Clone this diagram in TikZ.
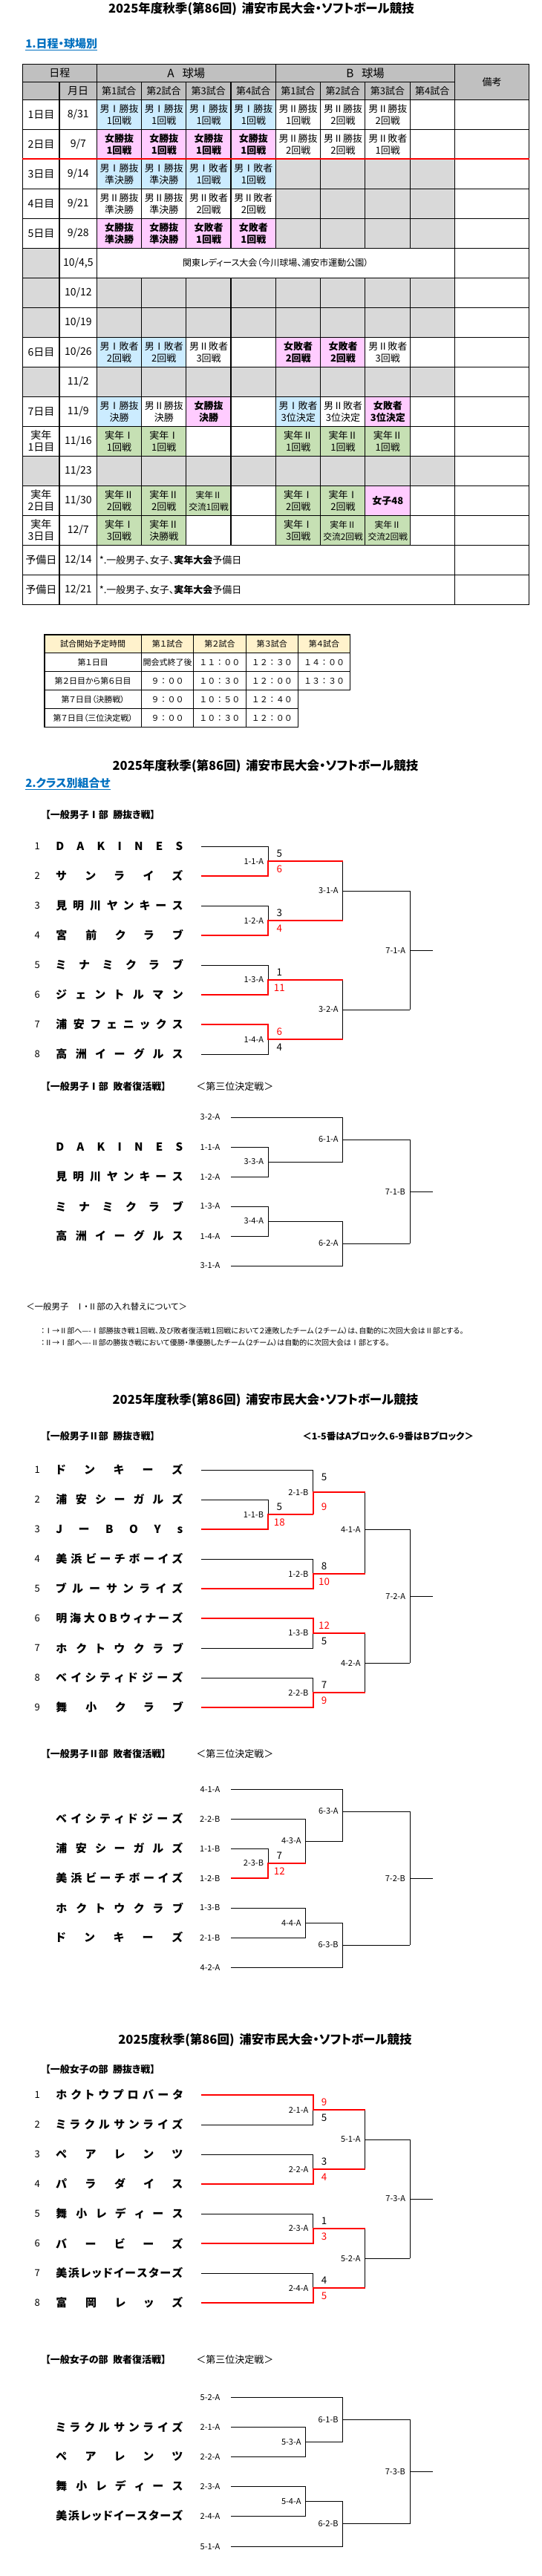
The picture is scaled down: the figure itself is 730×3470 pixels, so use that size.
\documentclass[tikz,border=0pt]{standalone}
\usepackage{fontspec}
\setmainfont{Noto Sans CJK JP}[RawFeature=+palt]
\newfontfamily\jpfw{Noto Sans CJK JP}
\makeatletter
\newcommand\spreadchars[1]{\@tfor\sc@c:=#1\do{\sc@c\hfill}\unskip}
\makeatother
\definecolor{cblue}{HTML}{CCECFF}
\definecolor{cpink}{HTML}{FFCCFF}
\definecolor{cgreen}{HTML}{C6E0B4}
\definecolor{cgray}{HTML}{D9D9D9}
\definecolor{chead}{HTML}{C0C0C0}
\definecolor{cyel}{HTML}{FFF2CC}
\definecolor{cttl}{HTML}{0070C0}
\tikzset{
 bl/.style={line width=0.75pt,black},
 wl/.style={line width=1.4pt,red},
 grid/.style={line width=0.8pt,black},
 tg/.style={line width=0.9pt,black},
 cell/.style={anchor=north west,minimum width=45.225pt,minimum height=30pt,inner sep=0pt,align=center,font=\fontsize{9.75pt}{12pt}\selectfont},
 cb/.style={cell,fill=cblue},
 pk/.style={cell,fill=cpink,font=\fontsize{9.75pt}{12pt}\selectfont\bfseries},
 cg/.style={cell,fill=cgreen},
 cw/.style={cell},
 gy/.style={cell,fill=cgray},
 hd/.style={inner sep=0pt,font=\fontsize{9.75pt}{12pt}\selectfont},
 tt/.style={inner sep=0pt,font=\fontsize{8.25pt}{10pt}\selectfont},
 ttf/.style={inner sep=0pt,font=\fontsize{8.25pt}{10pt}\jpfw},
 ttl/.style={inner sep=0pt,font=\fontsize{12.4pt}{14pt}\selectfont\bfseries},
 shead/.style={anchor=west,inner sep=0pt,text=cttl,font=\fontsize{11.25pt}{13pt}\selectfont\bfseries},
 bhead/.style={anchor=west,inner sep=0pt,font=\fontsize{9.75pt}{11pt}\selectfont\bfseries},
 bheadr/.style={anchor=west,inner sep=0pt,font=\fontsize{9.75pt}{11pt}\selectfont},
 lab/.style={inner sep=0pt,font=\fontsize{8.25pt}{9pt}\selectfont},
 sc/.style={inner sep=0pt,font=\fontsize{10pt}{11pt}\selectfont},
 tnum/.style={inner sep=0pt,font=\fontsize{9.75pt}{11pt}\selectfont},
 tname/.style={anchor=west,inner sep=0pt,font=\fontsize{11.25pt}{12pt}\selectfont\bfseries},
 note/.style={anchor=west,inner sep=0pt,font=\fontsize{7.5pt}{9pt}\selectfont}
}
\newcommand\gc[4]{%
 \pgfmathsetmacro\gx{130.1+60.3*(#2-1)}%
 \pgfmathsetmacro\gy{134.3+40*(#1-1)}%
 \node[#3] (g#1-#2) at (\gx,\gy) {#4};}
\newcommand\rc[4]{%
 \pgfmathsetmacro\gy{134.3+40*(#1-1)}%
 \node[cell,#2,minimum width=37.2pt,font=\fontsize{10.5pt}{12pt}\selectfont] (d#1) at (30.4,\gy) {#3};
 \node[cell,minimum width=37.58pt,font=\fontsize{10.5pt}{12pt}\selectfont] (m#1) at (80,\gy) {#4};}
\newcommand\team[4]{%
 \coordinate (#1) at (270.5,#2);
 \node[tnum] (#1n) at (50.2,#2) {#3};
 \node[tname] (#1m) at (75,#2) {\makebox[128.25pt][s]{\spreadchars{#4}}};}
\newcommand\entry[3]{%
 \coordinate (#1) at (311.2,#2);
 \node[lab,anchor=east] (#1l) at (296.5,#2) {#3};}
\newcommand\entryn[4]{%
 \coordinate (#1) at (311.2,#2);
 \node[tname] (#1m) at (75,#2) {\makebox[128.25pt][s]{\spreadchars{#3}}};
 \node[lab,anchor=east] (#1l) at (296.5,#2) {#4};}
\newcommand\mc[4]{%
 \coordinate (#1) at (#2,#3);
 \node[lab,anchor=east] (#1l) at ([xshift=-4.5pt]#1) {#4};}
\newcommand\mt[5]{%
 \ifcase#5\relax
  \draw[bl] (#1) -| (#3); \draw[bl] (#2) -| (#3); \draw[bl] (#3) -- (#4);
 \or
  \draw[bl] (#2) -| (#3); \draw[wl] (#1) -| (#3) -- (#4);
 \or
  \draw[bl] (#1) -| (#3); \draw[wl] (#2) -| (#3) -- (#4);
 \fi}
\newcommand\scr[3]{%
 \node[sc] (#1s1) at ([xshift=11.25pt,yshift=7.5pt]#1) {#2};
 \node[sc] (#1s2) at ([xshift=11.25pt,yshift=-7.8pt]#1) {#3};}
\newcommand\rd[1]{\textcolor{red}{#1}}
\begin{document}
\begin{tikzpicture}[x=0.75pt,y=-0.75pt]
\useasboundingbox (0,0) rectangle (730,3470);
\fill[white] (0,0) rectangle (730,3470);
% ---------- title and section 1
\node[ttl] (title1) at (352,12.5) {2025年度秋季(第86回)\hspace{0.4em}浦安市民大会・ソフトボール競技};
\node[shead] (sec1) at (34,60) {\underline{1.日程・球場別}};
% ---------- schedule table
\fill[chead] (30.4,86.7) rectangle (712.7,134.3);
\node[hd,font=\fontsize{10.5pt}{12pt}\selectfont] (hA0) at (80.25,98.5) {日程};
\node[hd,font=\fontsize{11.5pt}{13pt}\selectfont] (hA1) at (250.85,98.5) {A\hspace{0.7em}球場};
\node[hd,font=\fontsize{11.5pt}{13pt}\selectfont] (hA2) at (492.05,98.5) {B\hspace{0.7em}球場};
\node[hd] (hA3) at (662.6,110.5) {備考};
\node[hd,font=\fontsize{10.5pt}{12pt}\selectfont] (hB0) at (105.05,122.3) {月日};
\foreach \k/\t in {1/第1試合,2/第2試合,3/第3試合,4/第4試合,5/第1試合,6/第2試合,7/第3試合,8/第4試合}{
 \node[hd] (hB\k) at ({130.1+60.3*(\k-1)+30.15},122.3) {\t};}
% row labels
\rc{1}{fill=white}{1日目}{8/31}
\rc{2}{fill=white}{2日目}{9/7}
\rc{3}{fill=white}{3日目}{9/14}
\rc{4}{fill=white}{4日目}{9/21}
\rc{5}{fill=white}{5日目}{9/28}
\rc{6}{fill=cgray}{}{10/4,5}
\rc{7}{fill=cgray}{}{10/12}
\rc{8}{fill=cgray}{}{10/19}
\rc{9}{fill=white}{6日目}{10/26}
\rc{10}{fill=cgray}{}{11/2}
\rc{11}{fill=white}{7日目}{11/9}
\rc{12}{fill=white}{実年\\1日目}{11/16}
\rc{13}{fill=cgray}{}{11/23}
\rc{14}{fill=white}{実年\\2日目}{11/30}
\rc{15}{fill=white}{実年\\3日目}{12/7}
\rc{16}{fill=white}{予備日}{12/14}
\rc{17}{fill=white}{予備日}{12/21}
% row 1
\foreach \k in {1,...,4}{\gc{1}{\k}{cb}{男Ⅰ勝抜\\1回戦}}
\gc{1}{5}{cw}{男Ⅱ勝抜\\1回戦}
\gc{1}{6}{cw}{男Ⅱ勝抜\\2回戦}
\gc{1}{7}{cw}{男Ⅱ勝抜\\2回戦}
% row 2
\foreach \k in {1,...,4}{\gc{2}{\k}{pk}{女勝抜\\1回戦}}
\gc{2}{5}{cw}{男Ⅱ勝抜\\2回戦}
\gc{2}{6}{cw}{男Ⅱ勝抜\\2回戦}
\gc{2}{7}{cw}{男Ⅱ敗者\\1回戦}
% row 3
\gc{3}{1}{cb}{男Ⅰ勝抜\\準決勝}
\gc{3}{2}{cb}{男Ⅰ勝抜\\準決勝}
\gc{3}{3}{cb}{男Ⅰ敗者\\1回戦}
\gc{3}{4}{cb}{男Ⅰ敗者\\1回戦}
% row 4
\gc{4}{1}{cw}{男Ⅱ勝抜\\準決勝}
\gc{4}{2}{cw}{男Ⅱ勝抜\\準決勝}
\gc{4}{3}{cw}{男Ⅱ敗者\\2回戦}
\gc{4}{4}{cw}{男Ⅱ敗者\\2回戦}
% row 5
\gc{5}{1}{pk}{女勝抜\\準決勝}
\gc{5}{2}{pk}{女勝抜\\準決勝}
\gc{5}{3}{pk}{女敗者\\1回戦}
\gc{5}{4}{pk}{女敗者\\1回戦}
\foreach \r in {3,4,5}{\foreach \k in {5,...,8}{\gc{\r}{\k}{gy}{}}}
% row 6
\node[inner sep=0pt,font=\fontsize{9pt}{11pt}\selectfont] (r6) at (371.3,354.3) {関東レディース大会（今川球場、浦安市運動公園）};
% gray rows
\foreach \r in {7,8,10,13}{\foreach \k in {1,...,8}{\gc{\r}{\k}{gy}{}}}
% row 9
\gc{9}{1}{cb}{男Ⅰ敗者\\2回戦}
\gc{9}{2}{cb}{男Ⅰ敗者\\2回戦}
\gc{9}{3}{cw}{男Ⅱ敗者\\3回戦}
\gc{9}{5}{pk}{女敗者\\2回戦}
\gc{9}{6}{pk}{女敗者\\2回戦}
\gc{9}{7}{cw}{男Ⅱ敗者\\3回戦}
% row 11
\gc{11}{1}{cb}{男Ⅰ勝抜\\決勝}
\gc{11}{2}{cw}{男Ⅱ勝抜\\決勝}
\gc{11}{3}{pk}{女勝抜\\決勝}
\gc{11}{5}{cb}{男Ⅰ敗者\\3位決定}
\gc{11}{6}{cw}{男Ⅱ敗者\\3位決定}
\gc{11}{7}{pk}{女敗者\\3位決定}
% row 12
\gc{12}{1}{cg}{実年Ⅰ\\1回戦}
\gc{12}{2}{cg}{実年Ⅰ\\1回戦}
\gc{12}{5}{cg}{実年Ⅱ\\1回戦}
\gc{12}{6}{cg}{実年Ⅱ\\1回戦}
\gc{12}{7}{cg}{実年Ⅱ\\1回戦}
% row 14
\gc{14}{1}{cg}{実年Ⅱ\\2回戦}
\gc{14}{2}{cg}{実年Ⅱ\\2回戦}
\gc{14}{3}{cg,font=\fontsize{8.8pt}{12pt}\selectfont}{実年Ⅱ\\交流1回戦}
\gc{14}{5}{cg}{実年Ⅰ\\2回戦}
\gc{14}{6}{cg}{実年Ⅰ\\2回戦}
\gc{14}{7}{pk}{女子48}
% row 15
\gc{15}{1}{cg}{実年Ⅰ\\3回戦}
\gc{15}{2}{cg}{実年Ⅱ\\決勝戦}
\gc{15}{5}{cg}{実年Ⅰ\\3回戦}
\gc{15}{6}{cg,font=\fontsize{8.8pt}{12pt}\selectfont}{実年Ⅱ\\交流2回戦}
\gc{15}{7}{cg,font=\fontsize{8.8pt}{12pt}\selectfont}{実年Ⅱ\\交流2回戦}
% rows 16,17
\node[anchor=west,inner sep=0pt,font=\fontsize{9.75pt}{11pt}\selectfont] (r16) at (133.5,754.3) {*.一般男子、女子、{\bfseries 実年大会}予備日};
\node[anchor=west,inner sep=0pt,font=\fontsize{9.75pt}{11pt}\selectfont] (r17) at (133.5,794.3) {*.一般男子、女子、{\bfseries 実年大会}予備日};
% grid
\draw[grid] (30.4,86.7) rectangle (712.7,814.3);
\draw[grid] (30.4,110.3) -- (612.5,110.3);
\foreach \j in {0,...,16}{\draw[grid] (30.4,{134.3+40*\j}) -- (712.7,{134.3+40*\j});}
\draw[grid] (80,110.3) -- (80,814.3);
\draw[grid] (130.1,86.7) -- (130.1,814.3);
\draw[grid] (612.5,86.7) -- (612.5,814.3);
\draw[grid] (371.3,86.7) -- (371.3,334.3) (371.3,374.3) -- (371.3,734.3);
\foreach \x in {190.4,250.7,311.0,431.6,491.9,552.2}{\draw[grid] (\x,110.3) -- (\x,334.3) (\x,374.3) -- (\x,734.3);}
\draw[line width=1.5pt,red] (30.4,214.3) -- (712.7,214.3);
% ---------- time table
\fill[cyel] (59.9,855) rectangle (471.7,879.5);
\node[tt] (q00) at (125.2,867.25) {試合開始予定時間};
\node[tt] (q01) at (225.65,867.25) {第１試合};
\node[tt] (q02) at (295.95,867.25) {第２試合};
\node[tt] (q03) at (366.25,867.25) {第３試合};
\node[tt] (q04) at (436.55,867.25) {第４試合};
\node[tt] (q10) at (125.2,892) {第１日目};
\node[tt] (q11) at (225.65,892) {開会式終了後};
\node[ttf] (q12) at (295.95,892) {１１：００};
\node[ttf] (q13) at (366.25,892) {１２：３０};
\node[ttf] (q14) at (436.55,892) {１４：００};
\node[tt] (q20) at (125.2,917) {第２日目から第６日目};
\node[ttf] (q21) at (225.65,917) {９：００};
\node[ttf] (q22) at (295.95,917) {１０：３０};
\node[ttf] (q23) at (366.25,917) {１２：００};
\node[ttf] (q24) at (436.55,917) {１３：３０};
\node[tt] (q30) at (125.2,942) {第７日目（決勝戦）};
\node[ttf] (q31) at (225.65,942) {９：００};
\node[ttf] (q32) at (295.95,942) {１０：５０};
\node[ttf] (q33) at (366.25,942) {１２：４０};
\node[tt] (q40) at (125.2,967) {第７日目（三位決定戦）};
\node[ttf] (q41) at (225.65,967) {９：００};
\node[ttf] (q42) at (295.95,967) {１０：３０};
\node[ttf] (q43) at (366.25,967) {１２：００};
\draw[tg] (59.9,855) rectangle (471.7,929.5);
\draw[tg] (59.9,879.5) -- (471.7,879.5) (59.9,904.5) -- (471.7,904.5);
\draw[tg] (59.9,929.5) -- (59.9,979.5) -- (401.4,979.5) -- (401.4,929.5);
\draw[tg] (59.9,954.5) -- (401.4,954.5);
\foreach \x in {190.5,260.8,331.1,401.4}{\draw[tg] (\x,855) -- (\x,979.5);}
% ---------- section 2
\node[ttl] (title2) at (357.5,1032) {2025年度秋季(第86回)\hspace{0.4em}浦安市民大会・ソフトボール競技};
\node[shead] (sec2) at (34,1056) {\underline{2.クラス別組合せ}};
% bracket A
\node[bhead] (ha) at (61,1098) {【一般男子Ⅰ部\hspace{0.5em}勝抜き戦】};
\team{a-t1}{1140}{1}{DAKINES}
\team{a-t2}{1180}{2}{サンライズ}
\team{a-t3}{1220}{3}{見明川ヤンキース}
\team{a-t4}{1260}{4}{宮前クラブ}
\team{a-t5}{1300}{5}{ミナミクラブ}
\team{a-t6}{1340}{6}{ジェントルマン}
\team{a-t7}{1380}{7}{浦安フェニックス}
\team{a-t8}{1420}{8}{高洲イーグルス}
\mc{a-m11}{361.3}{1160}{1-1-A}
\mc{a-m12}{361.3}{1240}{1-2-A}
\mc{a-m13}{361.3}{1320}{1-3-A}
\mc{a-m14}{361.3}{1400}{1-4-A}
\mc{a-m31}{461.9}{1200}{3-1-A}
\mc{a-m32}{461.9}{1360}{3-2-A}
\mc{a-m71}{552.2}{1280}{7-1-A}
\coordinate (a-o11) at (461.9,1160);
\coordinate (a-o12) at (461.9,1240);
\coordinate (a-o13) at (461.9,1320);
\coordinate (a-o14) at (461.9,1400);
\coordinate (a-o31) at (552.2,1200);
\coordinate (a-o32) at (552.2,1360);
\coordinate (a-end) at (582.6,1280);
\mt{a-o11}{a-o12}{a-m31}{a-o31}{0}
\mt{a-o13}{a-o14}{a-m32}{a-o32}{0}
\mt{a-o31}{a-o32}{a-m71}{a-end}{0}
\mt{a-t1}{a-t2}{a-m11}{a-o11}{2}
\mt{a-t3}{a-t4}{a-m12}{a-o12}{2}
\mt{a-t5}{a-t6}{a-m13}{a-o13}{2}
\mt{a-t7}{a-t8}{a-m14}{a-o14}{1}
\scr{a-m11}{5}{\rd{6}}
\scr{a-m12}{3}{\rd{4}}
\scr{a-m13}{1}{\rd{11}}
\scr{a-m14}{\rd{6}}{4}
% bracket B (loser I)
\node[bhead] (hb) at (61,1463.3) {【一般男子Ⅰ部\hspace{0.5em}敗者復活戦】};
\node[bheadr] (hb2) at (264,1463.3) {＜第三位決定戦＞};
\entry{b-e1}{1505}{3-2-A}
\entryn{b-e2}{1545}{DAKINES}{1-1-A}
\entryn{b-e3}{1585}{見明川ヤンキース}{1-2-A}
\entryn{b-e4}{1625}{ミナミクラブ}{1-3-A}
\entryn{b-e5}{1665}{高洲イーグルス}{1-4-A}
\entry{b-e6}{1705}{3-1-A}
\mc{b-m33}{361.3}{1565}{3-3-A}
\mc{b-m34}{361.3}{1645}{3-4-A}
\mc{b-m61}{461.9}{1535}{6-1-A}
\mc{b-m62}{461.9}{1675}{6-2-A}
\mc{b-m71}{552.2}{1605}{7-1-B}
\coordinate (b-o33) at (461.9,1565);
\coordinate (b-o34) at (461.9,1645);
\coordinate (b-o61) at (552.2,1535);
\coordinate (b-o62) at (552.2,1675);
\coordinate (b-end) at (582.6,1605);
\mt{b-e2}{b-e3}{b-m33}{b-o33}{0}
\mt{b-e4}{b-e5}{b-m34}{b-o34}{0}
\mt{b-e1}{b-o33}{b-m61}{b-o61}{0}
\mt{b-o34}{b-e6}{b-m62}{b-o62}{0}
\mt{b-o61}{b-o62}{b-m71}{b-end}{0}
% notes
\node[anchor=west,inner sep=0pt,font=\fontsize{8.6pt}{10pt}\selectfont] (n0) at (35,1760) {＜一般男子\hspace{0.8em}Ⅰ・Ⅱ部の入れ替えについて＞};
\node[note] (n1) at (55,1792.3) {：Ⅰ→Ⅱ部へ----Ⅰ部勝抜き戦１回戦、及び敗者復活戦１回戦において２連敗したチーム（２チーム）は、自動的に次回大会はⅡ部とする。};
\node[note] (n2) at (55,1808.3) {：Ⅱ→Ⅰ部へ----Ⅱ部の勝抜き戦において優勝・準優勝したチーム（2チーム）は自動的に次回大会はⅠ部とする。};
% ---------- section 3
\node[ttl] (title3) at (357.5,1885.7) {2025年度秋季(第86回)\hspace{0.4em}浦安市民大会・ソフトボール競技};
\node[bhead] (hc) at (61,1934.3) {【一般男子Ⅱ部\hspace{0.5em}勝抜き戦】};
\node[anchor=west,inner sep=0pt,font=\fontsize{9.4pt}{11pt}\selectfont\bfseries] (hc2) at (407,1934.3) {＜1-5番はAブロック、6-9番はＢブロック＞};
\team{c-t1}{1980}{1}{ドンキーズ}
\team{c-t2}{2020}{2}{浦安シーガルズ}
\team{c-t3}{2060}{3}{JーBOYs}
\team{c-t4}{2100}{4}{美浜ビーチボーイズ}
\team{c-t5}{2140}{5}{ブルーサンライズ}
\team{c-t6}{2180}{6}{明海大OBウィナーズ}
\team{c-t7}{2220}{7}{ホクトウクラブ}
\team{c-t8}{2260}{8}{ベイシティドジーズ}
\team{c-t9}{2300}{9}{舞小クラブ}
\mc{c-m11}{361.3}{2040}{1-1-B}
\mc{c-m21}{421.6}{2010}{2-1-B}
\mc{c-m12}{421.6}{2120}{1-2-B}
\mc{c-m13}{421.6}{2200}{1-3-B}
\mc{c-m22}{421.6}{2280}{2-2-B}
\mc{c-m41}{491.8}{2060}{4-1-A}
\mc{c-m42}{491.8}{2240}{4-2-A}
\mc{c-m72}{552.2}{2150}{7-2-A}
\coordinate (c-o11) at (421.6,2040);
\coordinate (c-o21) at (491.8,2010);
\coordinate (c-o12) at (491.8,2120);
\coordinate (c-o13) at (491.8,2200);
\coordinate (c-o22) at (491.8,2280);
\coordinate (c-o41) at (552.2,2060);
\coordinate (c-o42) at (552.2,2240);
\coordinate (c-end) at (582.6,2150);
\mt{c-o21}{c-o12}{c-m41}{c-o41}{0}
\mt{c-o13}{c-o22}{c-m42}{c-o42}{0}
\mt{c-o41}{c-o42}{c-m72}{c-end}{0}
\mt{c-t2}{c-t3}{c-m11}{c-o11}{2}
\mt{c-t1}{c-o11}{c-m21}{c-o21}{2}
\mt{c-t4}{c-t5}{c-m12}{c-o12}{2}
\mt{c-t6}{c-t7}{c-m13}{c-o13}{1}
\mt{c-t8}{c-t9}{c-m22}{c-o22}{2}
\scr{c-m11}{5}{\rd{18}}
\node[sc] (c-m21s1) at ([xshift=11.25pt,yshift=15pt]c-m21) {5};
\node[sc] (c-m21s2) at ([xshift=11.25pt,yshift=-15pt]c-m21) {\rd{9}};
\scr{c-m12}{8}{\rd{10}}
\scr{c-m13}{\rd{12}}{5}
\scr{c-m22}{7}{\rd{9}}
% bracket D (loser II)
\node[bhead] (hd) at (61,2362.3) {【一般男子Ⅱ部\hspace{0.5em}敗者復活戦】};
\node[bheadr] (hd2) at (264,2362.3) {＜第三位決定戦＞};
\entry{d-e1}{2410}{4-1-A}
\entryn{d-e2}{2450}{ベイシティドジーズ}{2-2-B}
\entryn{d-e3}{2490}{浦安シーガルズ}{1-1-B}
\entryn{d-e4}{2530}{美浜ビーチボーイズ}{1-2-B}
\entryn{d-e5}{2570}{ホクトウクラブ}{1-3-B}
\entryn{d-e6}{2610}{ドンキーズ}{2-1-B}
\entry{d-e7}{2650}{4-2-A}
\mc{d-m23}{361.3}{2510}{2-3-B}
\mc{d-m43}{411.8}{2480}{4-3-A}
\mc{d-m63a}{461.9}{2440}{6-3-A}
\mc{d-m44}{411.8}{2590}{4-4-A}
\mc{d-m63b}{461.9}{2620}{6-3-B}
\mc{d-m72}{552.2}{2530}{7-2-B}
\coordinate (d-o23) at (411.8,2510);
\coordinate (d-o43) at (461.9,2480);
\coordinate (d-o63a) at (552.2,2440);
\coordinate (d-o44) at (461.9,2590);
\coordinate (d-o63b) at (552.2,2620);
\coordinate (d-end) at (582.6,2530);
\mt{d-e2}{d-o23}{d-m43}{d-o43}{0}
\mt{d-e1}{d-o43}{d-m63a}{d-o63a}{0}
\mt{d-e5}{d-e6}{d-m44}{d-o44}{0}
\mt{d-o44}{d-e7}{d-m63b}{d-o63b}{0}
\mt{d-o63a}{d-o63b}{d-m72}{d-end}{0}
\mt{d-e3}{d-e4}{d-m23}{d-o23}{2}
\scr{d-m23}{7}{\rd{12}}
% ---------- section 4
\node[ttl] (title4) at (357,2748.3) {2025度秋季(第86回)\hspace{0.4em}浦安市民大会・ソフトボール競技};
\node[bhead] (he) at (61,2787.3) {【一般女子の部\hspace{0.5em}勝抜き戦】};
\team{e-t1}{2822}{1}{ホクトウプロバータ}
\team{e-t2}{2862}{2}{ミラクルサンライズ}
\team{e-t3}{2902}{3}{ペアレンツ}
\team{e-t4}{2942}{4}{パラダイス}
\team{e-t5}{2982}{5}{舞小レディース}
\team{e-t6}{3022}{6}{バービーズ}
\team{e-t7}{3062}{7}{美浜レッドイースターズ}
\team{e-t8}{3102}{8}{富岡レッズ}
\mc{e-m21}{421.6}{2842}{2-1-A}
\mc{e-m22}{421.6}{2922}{2-2-A}
\mc{e-m23}{421.6}{3002}{2-3-A}
\mc{e-m24}{421.6}{3082}{2-4-A}
\mc{e-m51}{491.8}{2882}{5-1-A}
\mc{e-m52}{491.8}{3042}{5-2-A}
\mc{e-m73}{552.2}{2962}{7-3-A}
\coordinate (e-o21) at (491.8,2842);
\coordinate (e-o22) at (491.8,2922);
\coordinate (e-o23) at (491.8,3002);
\coordinate (e-o24) at (491.8,3082);
\coordinate (e-o51) at (552.2,2882);
\coordinate (e-o52) at (552.2,3042);
\coordinate (e-end) at (582.6,2962);
\mt{e-o21}{e-o22}{e-m51}{e-o51}{0}
\mt{e-o23}{e-o24}{e-m52}{e-o52}{0}
\mt{e-o51}{e-o52}{e-m73}{e-end}{0}
\mt{e-t1}{e-t2}{e-m21}{e-o21}{1}
\mt{e-t3}{e-t4}{e-m22}{e-o22}{2}
\mt{e-t5}{e-t6}{e-m23}{e-o23}{2}
\mt{e-t7}{e-t8}{e-m24}{e-o24}{2}
\scr{e-m21}{\rd{9}}{5}
\scr{e-m22}{3}{\rd{4}}
\scr{e-m23}{1}{\rd{3}}
\scr{e-m24}{4}{\rd{5}}
% bracket F (loser women)
\node[bhead] (hf) at (61,3178.3) {【一般女子の部\hspace{0.5em}敗者復活戦】};
\node[bheadr] (hf2) at (264,3178.3) {＜第三位決定戦＞};
\entry{f-e1}{3229}{5-2-A}
\entryn{f-e2}{3269}{ミラクルサンライズ}{2-1-A}
\entryn{f-e3}{3309}{ペアレンツ}{2-2-A}
\entryn{f-e4}{3349}{舞小レディース}{2-3-A}
\entryn{f-e5}{3389}{美浜レッドイースターズ}{2-4-A}
\entry{f-e6}{3430}{5-1-A}
\mc{f-m53}{411.8}{3289}{5-3-A}
\mc{f-m54}{411.8}{3369}{5-4-A}
\mc{f-m61}{461.9}{3259}{6-1-B}
\mc{f-m62}{461.9}{3399.5}{6-2-B}
\mc{f-m73}{552.2}{3329}{7-3-B}
\coordinate (f-o53) at (461.9,3289);
\coordinate (f-o54) at (461.9,3369);
\coordinate (f-o61) at (552.2,3259);
\coordinate (f-o62) at (552.2,3399.5);
\coordinate (f-end) at (582.6,3329);
\mt{f-e2}{f-e3}{f-m53}{f-o53}{0}
\mt{f-e4}{f-e5}{f-m54}{f-o54}{0}
\mt{f-e1}{f-o53}{f-m61}{f-o61}{0}
\mt{f-o54}{f-e6}{f-m62}{f-o62}{0}
\mt{f-o61}{f-o62}{f-m73}{f-end}{0}
\end{tikzpicture}
\end{document}
